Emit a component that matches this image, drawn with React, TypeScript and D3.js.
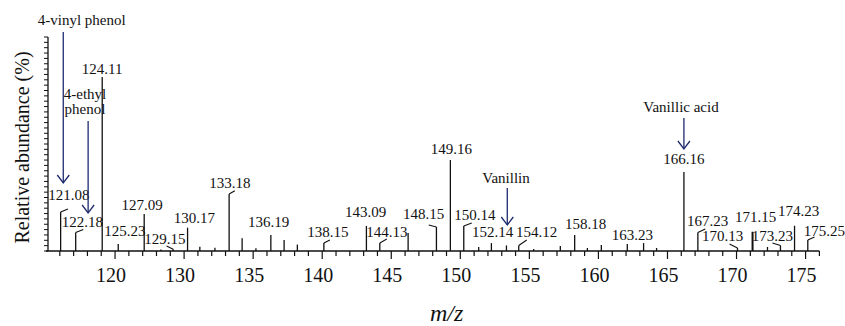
import React from 'react';
import * as d3 from 'd3';

// peak list (axis position, relative abundance %)
const peakMz = [121.06, 122.15, 124.07, 125.23, 127.11, 128.32, 129.21, 130.25, 131.14, 132.23,
  133.26, 134.2, 135.2, 136.28, 137.24, 138.2, 140.12, 143.2, 144.17, 146.22,
  148.27, 149.28, 150.25, 151.33, 152.25, 153.34, 154.23, 155.31, 157.24, 158.28,
  159.2, 160.21, 162.09, 163.27, 164.21, 166.19, 167.2, 170.07, 171.16, 172.24,
  173.18, 174.2, 175.16];
const peakAbundance = [18.2, 8.6, 81.3, 3.3, 17.3, 0.7, 0.8, 10.9, 2.0, 1.5,
  26.6, 5.9, 1.3, 7.5, 5.1, 3.0, 3.7, 11.7, 3.7, 8.4,
  11.2, 42.5, 11.7, 1.9, 3.7, 2.6, 2.6, 0.9, 2.3, 7.5,
  1.4, 2.8, 3.3, 3.7, 1.4, 36.9, 8.6, 1.4, 9.0, 1.9,
  2.6, 11.8, 5.1];

// labelled peaks
const labelText = ['121.08', '122.18', '124.11', '125.23', '127.09', '129.15', '130.17', '133.18',
  '136.19', '138.15', '143.09', '144.13', '148.15', '149.16', '150.14', '152.14', '154.12',
  '158.18', '163.23', '166.16', '167.23', '170.13', '171.15', '173.23', '174.23', '175.25'];
const labelPeak = [121.06, 122.15, 124.07, 125.23, 127.11, 129.21, 130.25, 133.26,
  136.28, 140.12, 143.2, 144.17, 148.27, 149.28, 150.25, 152.25, 154.23,
  158.28, 163.27, 166.19, 167.2, 170.07, 171.16, 173.18, 174.2, 175.16];
// text dx, baseline dy (from peak top), leader end lx, ly
const labelLayout = [
  [8.3, -12, 7.3, -3], [6.8, -5.5, 7.6, -3.2], [0, -3, 0, 0], [6.7, -8, 0, 0],
  [-2, -4, 0, 0], [-8.3, -5, -6.6, -3.3], [6.8, -5, 0, 0], [0.7, -6, 5.7, -3.3],
  [-2.3, -8, 0, 0], [4, -6, 6, -3], [-0.7, -9, 0, 0], [7, -6, 7, -4],
  [-12.7, -8, -7.7, -2], [1, -6, 0, 0], [11, -6, 8, -3], [1.3, -6, 0, 0],
  [18, -8.5, 8, -5.5], [11, -6, 0, 0], [-11.3, -3, 0, 0], [0, -8, 0, 0],
  [9.7, -7, 7.4, -3.7], [-15, -7.3, -8, -4], [3, -10, 0, 0], [-8, -4.8, -8, -2.5],
  [4, -9.7, 0, 0], [16.7, -4, 6.7, -3],
];

// compound annotations with arrows
const compoundNames = [['4-vinyl phenol'], ['4-ethyl', 'phenol'], ['Vanillin'], ['Vanillic acid']];
const compoundMz = [121.25, 123.05, 153.4, 166.19];
const arrowTop = [32, 121, 188, 118];
const arrowBottom = [183, 213, 225, 149];
const compoundTextX = [81.7, 85, 506, 681];
const compoundTextY = [25, 99, 183, 112];

const tickValues = [125, 130, 135, 140, 145, 150, 155, 160, 165, 170, 175];
const tickLabels = ['120', '130', '135', '140', '145', '150', '155', '160', '165', '170', '175'];

const W = 845, H = 326;
const serif = '"Liberation Serif", "Times New Roman", serif';
const navy = '#1e2a6e';

export default function App() {
  const x = d3.scaleLinear().domain([120, 176]).range([46, 819.4]);
  const y = d3.scaleLinear().domain([0, 100]).range([251, 37]);
  const y0 = y(0);
  const axisX = 48;
  const minor = d3.range(121, 177, 1);
  const yTicks = d3.range(0, 100.01, 2.5);

  return (
    <svg width={W} height={H} style={{ position: 'absolute', left: 0, top: 0, background: '#fff' }}
      fontFamily={serif}>
      {/* peaks */}
      {peakMz.map((m, i) => (
        <line key={'p' + i} x1={x(m)} x2={x(m)} y1={y0} y2={y(peakAbundance[i])}
          stroke="#111" strokeWidth={m > 171 && m < 171.3 ? 2 : 1.3} />
      ))}

      {/* peak labels */}
      {labelText.map((t, i) => {
        const idx = peakMz.indexOf(labelPeak[i]);
        const px = x(labelPeak[i]);
        const top = y(peakAbundance[idx]);
        const [dx, dy, lx, ly] = labelLayout[i];
        return (
          <g key={'l' + i}>
            {(lx !== 0 || ly !== 0) && (
              <line x1={px} y1={top} x2={px + lx} y2={top + ly} stroke="#111" strokeWidth={1.1} />
            )}
            <text x={px + dx} y={top + dy} fontSize={15} textAnchor="middle" fill="#111">{t}</text>
          </g>
        );
      })}

      {/* compound arrows */}
      {compoundNames.map((lines, i) => {
        const ax = x(compoundMz[i]);
        const b = arrowBottom[i];
        return (
          <g key={'c' + i}>
            <line x1={ax} x2={ax} y1={arrowTop[i]} y2={b} stroke={navy} strokeWidth={1.3} />
            <path d={`M${ax - 6},${b - 8}L${ax},${b}L${ax + 6},${b - 8}`} fill="none" stroke={navy} strokeWidth={1.3} />
            {lines.map((s, j) => (
              <text key={j} x={compoundTextX[i]} y={compoundTextY[i] + j * 14.5} fontSize={15}
                textAnchor="middle" fill="#111">{s}</text>
            ))}
          </g>
        );
      })}

      {/* x axis */}
      <line x1={x(120)} x2={x(176)} y1={y0} y2={y0} stroke="#111" strokeWidth={1.3} />
      {minor.map(v => {
        const major = tickValues.includes(v);
        return <line key={'t' + v} x1={x(v)} x2={x(v)} y1={y0} y2={y0 + (major ? 8 : 5)}
          stroke="#111" strokeWidth={1.2} />;
      })}
      {tickValues.map((v, i) => (
        <text key={'tl' + v} x={x(v) - 4} y={282} fontSize={20} textAnchor="middle" fill="#111">
          {tickLabels[i]}
        </text>
      ))}
      <text x={446.7} y={321} fontSize={24} fontStyle="italic" textAnchor="middle" fill="#111">m/z</text>

      {/* y axis */}
      <line x1={axisX} x2={axisX} y1={y(100)} y2={y0} stroke="#111" strokeWidth={1.3} />
      {yTicks.map(v => (
        <line key={'yt' + v} x1={axisX - 4} x2={axisX} y1={y(v)} y2={y(v)} stroke="#111" strokeWidth={1} />
      ))}
      <text transform={`translate(29,${147.5}) rotate(-90)`} fontSize={20} textAnchor="middle" fill="#111">
        Relative abundance (%)
      </text>
    </svg>
  );
}
